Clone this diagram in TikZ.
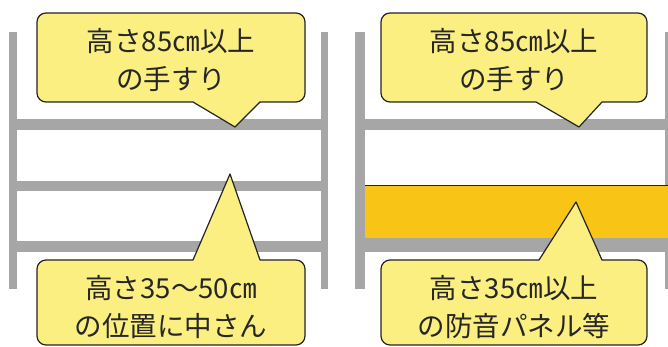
\documentclass[tikz,border=0pt]{standalone}
\usepackage{fontspec}
\newfontfamily\jpfont{Noto Sans CJK JP}
\definecolor{railgray}{RGB}{166,166,166}
\definecolor{calloutyellow}{RGB}{250,239,128}
\definecolor{panelorange}{RGB}{248,196,22}
\definecolor{edgedark}{RGB}{35,35,35}
\begin{document}
\begin{tikzpicture}[x=1pt,y=1pt,
  rail/.style={fill=railgray},
  bubble/.style={fill=calloutyellow,draw=edgedark,line width=1.2pt,line join=round},
  bubbletext/.style={font=\jpfont\fontsize{27.5}{38}\selectfont,align=center,text=black!85,inner sep=0pt}]
\useasboundingbox (0,0) rectangle (668,347);
% ---- left structure
\fill[rail] (9,58) rectangle (17,315);
\fill[rail] (321,58) rectangle (328,315);
\fill[rail] (17,217) rectangle (321,228);
\fill[rail] (17,156) rectangle (321,166);
\fill[rail] (17,95) rectangle (321,106);
% ---- right structure
\fill[rail] (355,58) rectangle (365,315);
\fill[rail] (665,58) rectangle (668,315);
\fill[rail] (365,217) rectangle (665,228);
\fill[rail] (365,95) rectangle (665,109);
\fill[panelorange] (365,109) rectangle (668,161);
\draw[edgedark,line width=1pt] (365,161) -- (668,161);
% ---- callouts (r = 9)
% top left
\draw[bubble] (46,245) -- (193,245) -- (235,220) -- (260,245) -- (296,245)
  arc[start angle=270,end angle=360,radius=9] -- (305,325)
  arc[start angle=0,end angle=90,radius=9] -- (46,334)
  arc[start angle=90,end angle=180,radius=9] -- (37,254)
  arc[start angle=180,end angle=270,radius=9] -- cycle;
% bottom left
\draw[bubble] (46,2) -- (296,2)
  arc[start angle=270,end angle=360,radius=9] -- (305,78)
  arc[start angle=0,end angle=90,radius=9] -- (260,87) -- (230,173) -- (193,87) -- (46,87)
  arc[start angle=90,end angle=180,radius=9] -- (37,11)
  arc[start angle=180,end angle=270,radius=9] -- cycle;
% top right
\draw[bubble] (390,245) -- (536,245) -- (579,220) -- (602,245) -- (638,245)
  arc[start angle=270,end angle=360,radius=9] -- (647,325)
  arc[start angle=0,end angle=90,radius=9] -- (390,334)
  arc[start angle=90,end angle=180,radius=9] -- (381,254)
  arc[start angle=180,end angle=270,radius=9] -- cycle;
% bottom right
\draw[bubble] (390,2) -- (638,2)
  arc[start angle=270,end angle=360,radius=9] -- (647,78)
  arc[start angle=0,end angle=90,radius=9] -- (602,87) -- (576,145) -- (539,87) -- (390,87)
  arc[start angle=90,end angle=180,radius=9] -- (381,11)
  arc[start angle=180,end angle=270,radius=9] -- cycle;
% ---- texts
\node[bubbletext] (tl) at (171,287) {高さ85㎝以上\\の手すり};
\node[bubbletext] (bl) at (171,40) {高さ35～50㎝\\の位置に中さん};
\node[bubbletext] (tr) at (514,287) {高さ85㎝以上\\の手すり};
\node[bubbletext] (br) at (514,40) {高さ35㎝以上\\の防音パネル等};
\end{tikzpicture}
\end{document}
